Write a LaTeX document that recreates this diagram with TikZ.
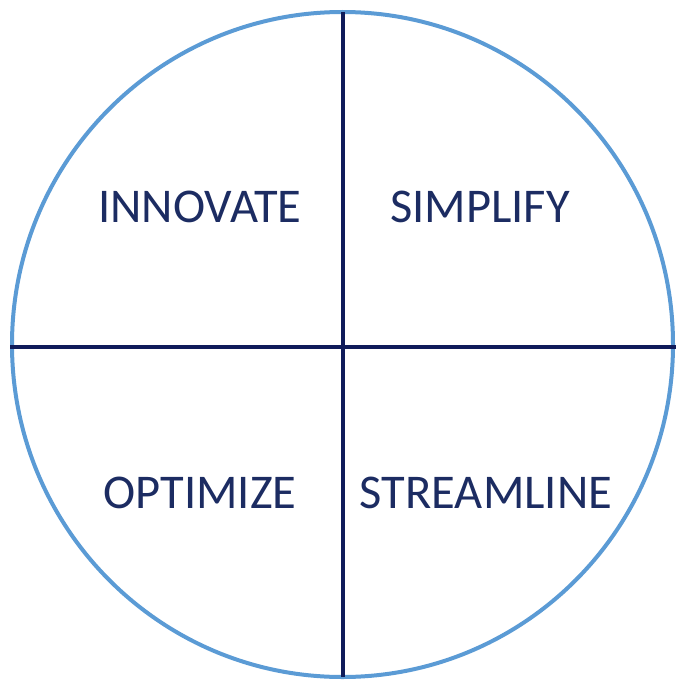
\documentclass[tikz,border=0pt]{standalone}
\usepackage{fontspec}
\setmainfont{Carlito}
\definecolor{ringblue}{HTML}{5B9BD5}
\definecolor{linenavy}{HTML}{0F1B5A}
\definecolor{textnavy}{HTML}{1C2C62}
\tikzset{
  ring/.style={draw=ringblue, line width=4pt},
  divider/.style={draw=linenavy, line width=4pt},
  label/.style={text=textnavy, font=\fontsize{48.5}{56}\selectfont, inner sep=0pt}
}
\begin{document}
\begin{tikzpicture}[x=1pt,y=-1pt]
\useasboundingbox (0,0) rectangle (676,685);
\coordinate (c) at (342.5,344.5);
\draw[ring] (c) ellipse [x radius=330.5, y radius=332.5];
\coordinate (l) at (10,347);
\coordinate (r) at (676,347);
\coordinate (t) at (343,12);
\coordinate (b) at (343,677);
\draw[divider] (l) -- (r);
\draw[divider] (t) -- (b);
\node[label] (innovate) at (200,207) {INNOVATE};
\node[label] (simplify) at (480,207) {SIMPLIFY};
\node[label] (optimize) at (200,493) {OPTIMIZE};
\node[label] (streamline) at (486,493) {STREAMLINE};
\end{tikzpicture}
\end{document}
